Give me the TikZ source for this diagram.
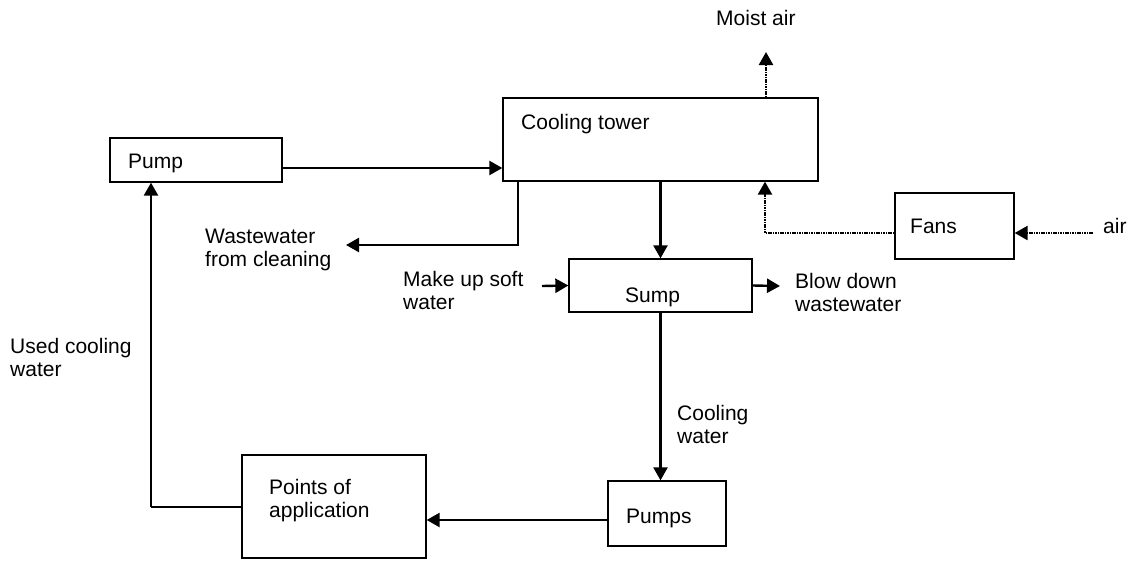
\documentclass[tikz,border=0pt]{standalone}
\usepackage{fontspec}
\setmainfont{Liberation Sans}
\usetikzlibrary{arrows.meta}
\begin{document}
\begin{tikzpicture}[x=1pt,y=-1pt,
  box/.style={draw, line width=1.3pt, inner sep=0pt},
  lbl/.style={anchor=base west, inner sep=0pt, align=left, font=\fontsize{21}{23}\selectfont},
  arr/.style={line width=2.4pt, -{Triangle[length=13pt,width=14pt]}},
  airarr/.style={line width=2.4pt, dash pattern=on 1.6pt off 0.8pt, -{Triangle[length=13pt,width=14pt]}},
  thin/.style={line width=1.1pt}]
\useasboundingbox (0,0) rectangle (1134,560);
% boxes
\node[box, minimum width=172pt, minimum height=44pt] (pump) at (196,160) {};
\node[box, minimum width=315pt, minimum height=83pt] (tower) at (660.5,139.5) {};
\node[box, minimum width=183pt, minimum height=53pt] (sump) at (660.5,285.5) {};
\node[box, minimum width=119pt, minimum height=66pt] (fans) at (954.5,226) {};
\node[box, minimum width=118pt, minimum height=65pt] (pumps) at (667,513.5) {};
\node[box, minimum width=184pt, minimum height=103pt] (points) at (334,506.5) {};
% texts (base = baseline of last line)
\node[lbl] (tmoist) at (716,25) {Moist air};
\node[lbl] (ttower) at (521,129) {Cooling tower};
\node[lbl] (tpump) at (128,168) {Pump};
\node[lbl] (tww) at (205,266) {Wastewater\\from cleaning};
\node[lbl] (tmake) at (403,309) {Make up soft\\water};
\node[lbl] (tsump) at (625,302) {Sump};
\node[lbl] (tblow) at (795,311) {Blow down\\wastewater};
\node[lbl] (tfans) at (910,233) {Fans};
\node[lbl] (tair) at (1103,233) {air};
\node[lbl] (tused) at (10,376) {Used cooling\\water};
\node[lbl] (tcw) at (677,443) {Cooling\\water};
\node[lbl] (tpumps) at (626,523) {Pumps};
\node[lbl] (tpoints) at (269,517) {Points of\\application};
% free ends
\coordinate (moistend) at (766,52);
\coordinate (wwend) at (346,245);
\coordinate (makestart) at (542,286);
\coordinate (blowend) at (780,286);
\coordinate (airstart) at (1093,233);
\coordinate (usedcorner) at (151,507);
% connectors
\draw[arr] (pump.east |- 0,168) -- (tower.west |- 0,168);
\draw[arr] (tower.south -| 518,0) -- (518,245) -- (wwend);
\draw[arr] (tower.south) -- (sump.north);
\draw[arr] (makestart) -- (sump.west);
\draw[arr] (sump.east) -- (blowend);
\draw[airarr] (tower.north -| moistend) -- (moistend);
\draw[airarr] (fans.west |- 0,233) -- (765,233) -- (tower.south -| 765,0);
\draw[airarr] (airstart) -- (fans.east |- 0,233);
\draw[arr] (sump.south) -- (pumps.north -| sump.south);
\draw[arr] (pumps.west |- 0,520) -- (points.east |- 0,520);
\draw[thin] (points.west |- usedcorner) -- (usedcorner);
\draw[arr] (usedcorner) -- (pump.south -| usedcorner);
\end{tikzpicture}
\end{document}
